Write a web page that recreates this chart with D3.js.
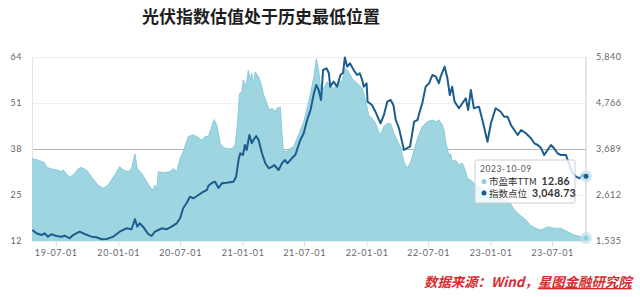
<!doctype html>
<html lang="zh">
<head>
<meta charset="UTF-8">
<title>光伏指数估值</title>
<style type="text/css">
body {
  margin: 0;
  padding: 0;
  background: #ffffff;
  font-family: 'Noto Sans CJK SC', 'Noto Sans', sans-serif;
}
</style>
<script type="text/javascript" src="https://cdn.jsdelivr.net/npm/d3@7/dist/d3.min.js"></script>
</head>
<body>
<div id="chart"></div>
<script type="text/javascript">

var title = '光伏指数估值处于历史最低位置';
var source = '数据来源：Wind，';
var sourceOrg = '星图金融研究院';

var peName = '市盈率TTM';
var idxName = '指数点位';
var hoverDate = '2023-10-09';
var hoverPe = '12.86';
var hoverIdx = '3,048.73';

var leftTicks = [12, 25, 38, 51, 64];
var rightTicks = [1535, 2612, 3689, 4766, 5840];
var xTicks = ['2019-07-01', '2020-01-01', '2020-07-01', '2021-01-01', '2021-07-01',
  '2022-01-01', '2022-07-01', '2023-01-01', '2023-07-01'];

// PE TTM (left axis)
var peDates = [
  '2019-04-22', '2019-05-15', '2019-05-29', '2019-06-03', '2019-06-13', '2019-07-03', '2019-07-18', '2019-07-22',
  '2019-08-11', '2019-08-26', '2019-09-04', '2019-09-14', '2019-09-29', '2019-10-14', '2019-11-02', '2019-11-17',
  '2019-12-02', '2019-12-22', '2020-01-05', '2020-01-15', '2020-01-30', '2020-02-09', '2020-02-19', '2020-02-26',
  '2020-03-10', '2020-03-19', '2020-04-03', '2020-04-13', '2020-04-18', '2020-04-23', '2020-04-28', '2020-05-12',
  '2020-06-01', '2020-06-11', '2020-06-21', '2020-07-01', '2020-07-10', '2020-07-25', '2020-08-09', '2020-08-19',
  '2020-09-03', '2020-09-12', '2020-09-22', '2020-10-02', '2020-10-09', '2020-10-17', '2020-10-27', '2020-11-05',
  '2020-11-15', '2020-11-30', '2020-12-10', '2020-12-17', '2020-12-23', '2020-12-30', '2021-01-03', '2021-01-11',
  '2021-01-18', '2021-01-23', '2021-01-28', '2021-02-02', '2021-02-07', '2021-02-17', '2021-02-24', '2021-03-04',
  '2021-03-14', '2021-03-19', '2021-03-29', '2021-04-07', '2021-04-12', '2021-04-22', '2021-04-27', '2021-05-01',
  '2021-05-09', '2021-05-21', '2021-05-31', '2021-06-15', '2021-06-30', '2021-07-10', '2021-07-20', '2021-07-30',
  '2021-08-06', '2021-08-13', '2021-08-18', '2021-08-28', '2021-09-07', '2021-09-16', '2021-09-26', '2021-10-11',
  '2021-10-21', '2021-10-31', '2021-11-09', '2021-11-19', '2021-11-29', '2021-12-09', '2021-12-19', '2021-12-29',
  '2022-01-07', '2022-01-17', '2022-01-27', '2022-02-06', '2022-02-11', '2022-02-21', '2022-03-03', '2022-03-13',
  '2022-03-23', '2022-04-01', '2022-04-11', '2022-04-21', '2022-05-01', '2022-05-11', '2022-05-21', '2022-05-31',
  '2022-06-14', '2022-06-29', '2022-07-14', '2022-07-24', '2022-08-02', '2022-08-12', '2022-08-17', '2022-08-22',
  '2022-09-01', '2022-09-05', '2022-09-10', '2022-09-20', '2022-09-30', '2022-10-10', '2022-10-20', '2022-10-25',
  '2022-11-04', '2022-11-18', '2022-12-03', '2022-12-23', '2023-01-07', '2023-01-21', '2023-02-10', '2023-02-25',
  '2023-03-12', '2023-03-27', '2023-04-10', '2023-04-30', '2023-05-20', '2023-05-30', '2023-06-18', '2023-07-07',
  '2023-07-27', '2023-08-16', '2023-09-04', '2023-09-24', '2023-10-09'
];
var peValues = [
  35.3, 34.7, 34.1, 33.0, 32.5, 32.1, 31.6, 32.1,
  30.0, 31.1, 32.3, 32.8, 32.1, 30.2, 27.8, 26.9,
  27.8, 30.7, 33.0, 32.1, 31.6, 32.5, 36.6, 32.5,
  31.1, 29.7, 27.3, 26.4, 27.8, 26.4, 31.6, 31.3,
  31.6, 32.5, 31.6, 35.4, 37.2, 41.5, 42.0, 41.5,
  40.5, 41.5, 41.5, 44.3, 46.3, 44.8, 39.6, 38.5,
  38.1, 38.1, 39.1, 45.3, 53.7, 54.2, 57.5, 55.6,
  60.3, 57.5, 59.4, 56.1, 59.8, 58.4, 56.6, 53.3,
  50.9, 49.0, 49.5, 48.5, 49.5, 49.8, 42.4, 37.7,
  37.2, 38.2, 38.6, 42.0, 45.7, 49.5, 53.7, 58.4,
  63.5, 60.3, 55.6, 55.2, 57.0, 55.6, 55.2, 56.6,
  57.5, 60.8, 59.8, 58.0, 57.0, 56.1, 55.2, 51.9,
  47.6, 46.7, 45.3, 42.9, 42.0, 44.3, 45.3, 45.1,
  42.4, 40.5, 38.6, 34.4, 32.5, 34.4, 37.7, 41.0,
  44.3, 45.7, 46.2, 45.7, 46.2, 44.8, 43.4, 40.1,
  35.8, 36.8, 34.4, 34.9, 33.5, 34.0, 31.6, 29.7,
  29.2, 27.8, 27.3, 25.9, 25.5, 24.5, 23.6, 23.1,
  20.8, 19.4, 18.4, 16.3, 15.3, 15.1, 16.0, 15.6,
  15.6, 14.6, 13.7, 13.2, 12.86
];

// index level (right axis)
var idxDates = [
  '2019-04-23', '2019-05-05', '2019-05-20', '2019-05-29', '2019-06-08', '2019-06-18', '2019-07-03', '2019-07-18',
  '2019-07-27', '2019-08-11', '2019-08-21', '2019-09-09', '2019-09-24', '2019-10-14', '2019-10-29', '2019-11-13',
  '2019-11-28', '2019-12-17', '2020-01-05', '2020-01-25', '2020-02-09', '2020-02-19', '2020-02-26', '2020-03-04',
  '2020-03-14', '2020-03-29', '2020-04-08', '2020-04-18', '2020-04-28', '2020-05-08', '2020-05-22', '2020-06-06',
  '2020-06-21', '2020-07-01', '2020-07-10', '2020-07-20', '2020-07-30', '2020-08-09', '2020-08-24', '2020-09-08',
  '2020-09-18', '2020-09-22', '2020-10-02', '2020-10-12', '2020-10-22', '2020-11-01', '2020-11-15', '2020-12-05',
  '2020-12-13', '2020-12-20', '2020-12-25', '2021-01-02', '2021-01-08', '2021-01-13', '2021-01-21', '2021-01-28',
  '2021-02-02', '2021-02-10', '2021-02-17', '2021-02-27', '2021-03-09', '2021-03-19', '2021-03-29', '2021-04-04',
  '2021-04-17', '2021-04-27', '2021-05-06', '2021-05-13', '2021-05-26', '2021-06-05', '2021-06-10', '2021-06-20',
  '2021-06-30', '2021-07-10', '2021-07-20', '2021-07-30', '2021-08-06', '2021-08-13', '2021-08-20', '2021-08-26',
  '2021-09-05', '2021-09-12', '2021-09-16', '2021-09-26', '2021-10-06', '2021-10-16', '2021-10-24', '2021-10-29',
  '2021-11-05', '2021-11-13', '2021-11-24', '2021-12-04', '2021-12-12', '2021-12-19', '2021-12-24', '2022-01-01',
  '2022-01-04', '2022-01-17', '2022-01-27', '2022-02-11', '2022-02-21', '2022-03-03', '2022-03-13', '2022-03-21',
  '2022-03-28', '2022-04-07', '2022-04-21', '2022-04-29', '2022-05-09', '2022-05-21', '2022-05-31', '2022-06-05',
  '2022-06-14', '2022-06-24', '2022-07-04', '2022-07-14', '2022-07-24', '2022-08-02', '2022-08-07', '2022-08-19',
  '2022-08-27', '2022-09-03', '2022-09-10', '2022-09-17', '2022-09-30', '2022-10-10', '2022-10-20', '2022-10-27',
  '2022-11-04', '2022-11-13', '2022-11-28', '2022-12-08', '2022-12-23', '2023-01-02', '2023-01-16', '2023-01-31',
  '2023-02-10', '2023-02-20', '2023-03-02', '2023-03-12', '2023-03-22', '2023-04-01', '2023-04-15', '2023-04-30',
  '2023-05-10', '2023-05-20', '2023-05-30', '2023-06-08', '2023-06-18', '2023-06-28', '2023-07-07', '2023-07-17',
  '2023-07-27', '2023-08-11', '2023-08-21', '2023-08-31', '2023-09-10', '2023-09-20', '2023-09-30', '2023-10-09'
];
var idxValues = [
  1792, 1715, 1675, 1715, 1636, 1692, 1652, 1636,
  1659, 1598, 1675, 1753, 1699, 1636, 1622, 1575,
  1582, 1636, 1753, 1832, 1809, 2043, 1870, 1949,
  1870, 1699, 1652, 1753, 1792, 1832, 1809, 1870,
  1949, 2066, 2300, 2417, 2572, 2534, 2611, 2689,
  2728, 2822, 2892, 2923, 2775, 2885, 2899, 2923,
  3040, 3430, 3587, 3547, 3781, 3664, 4015, 3821,
  3898, 3992, 3898, 3587, 3353, 3236, 3274, 3313,
  3196, 3353, 3430, 3353, 3470, 3547, 3664, 3898,
  4055, 4366, 4600, 4991, 5185, 5068, 4834, 5536,
  5576, 5459, 5146, 5263, 5146, 5419, 5473, 5830,
  5614, 5693, 5536, 5419, 5459, 5302, 5146, 5225,
  4795, 4717, 4560, 4289, 4483, 4795, 4834, 4717,
  4366, 4156, 3664, 3704, 3741, 4327, 4366, 4523,
  4757, 5146, 5225, 5419, 5380, 5225, 5380, 5614,
  5342, 4951, 5146, 4795, 4640, 4757, 4874, 4600,
  5068, 4640, 4678, 4366, 3858, 4289, 4640, 4560,
  4443, 4443, 4249, 4132, 4015, 4132, 4055, 3938,
  3821, 3781, 3704, 3547, 3664, 3781, 3704, 3587,
  3547, 3547, 3313, 3119, 3040, 3002, 3079, 3048.73
];

var W = 640, H = 297;
var plotL = 32, plotR = 586, plotT = 57, plotB = 241;

var parse = d3.timeParse('%Y-%m-%d');
var pe = peDates.map(function(d, i) { return { date: parse(d), v: peValues[i] }; });
var idx = idxDates.map(function(d, i) { return { date: parse(d), v: idxValues[i] }; });

var x = d3.scaleTime()
  .domain([parse('2019-04-22'), parse('2023-10-09')])
  .range([plotL, plotR]);
var yL = d3.scaleLinear().domain([12, 64]).range([plotB, plotT]);
var yR = d3.scaleLinear().domain([1535, 5840]).range([plotB, plotT]);

var svg = d3.select('#chart').append('svg')
  .attr('width', W)
  .attr('height', H);

svg.append('rect').attr('width', W).attr('height', H).attr('fill', '#ffffff');

// title
svg.append('text')
  .attr('x', 261)
  .attr('y', 23)
  .attr('text-anchor', 'middle')
  .style('font-size', '17px')
  .style('font-weight', 'bold')
  .attr('fill', '#1e1e1e')
  .text(title);

// grid
svg.selectAll('line.grid').data(leftTicks).enter()
  .append('line')
  .attr('class', 'grid')
  .attr('x1', plotL).attr('x2', plotR)
  .attr('y1', function(d) { return Math.round(yL(d)) + 0.5; })
  .attr('y2', function(d) { return Math.round(yL(d)) + 0.5; })
  .attr('stroke', function(d) { return d === 38 ? '#b0b4bd' : '#eceef2'; })
  .attr('stroke-width', 1);

svg.append('line')
  .attr('x1', plotL + 0.5).attr('x2', plotL + 0.5)
  .attr('y1', plotT).attr('y2', plotB)
  .attr('stroke', '#e2e4ea');

// PE area
var area = d3.area()
  .x(function(d) { return x(d.date); })
  .y0(yL(12))
  .y1(function(d) { return yL(d.v); });

svg.append('path')
  .datum(pe)
  .attr('d', area)
  .attr('fill', '#9dd5e1');

svg.append('path')
  .datum(pe)
  .attr('d', d3.line().x(function(d) { return x(d.date); }).y(function(d) { return yL(d.v); }))
  .attr('fill', 'none')
  .attr('stroke', '#8ccbd9')
  .attr('stroke-width', 1);

// index line
svg.append('path')
  .datum(idx)
  .attr('d', d3.line().x(function(d) { return x(d.date); }).y(function(d) { return yR(d.v); }))
  .attr('fill', 'none')
  .attr('stroke', '#1c5d8e')
  .attr('stroke-width', 2)
  .attr('stroke-linejoin', 'round');

// x axis
var xAxis = d3.axisBottom(x)
  .tickValues(xTicks.map(parse))
  .tickFormat(d3.timeFormat('%y-%m-%d'))
  .tickSize(5)
  .tickPadding(4);

var gx = svg.append('g')
  .attr('transform', 'translate(0,' + plotB + ')')
  .call(xAxis);
gx.select('.domain').remove();
gx.selectAll('line').attr('stroke', '#d8dbe2');
gx.selectAll('text')
  .attr('fill', '#666')
  .style('font-family', 'Lato, sans-serif')
  .style('font-size', '9px')
  .style('letter-spacing', '0.6px');

// left axis
var gl = svg.append('g')
  .attr('transform', 'translate(' + 22 + ',0)')
  .call(d3.axisLeft(yL).tickValues(leftTicks).tickSize(0).tickPadding(0));
gl.select('.domain').remove();
gl.selectAll('text')
  .attr('fill', '#666')
  .style('font-family', 'Lato, sans-serif')
  .style('font-size', '9px')
  .style('letter-spacing', '0.5px');

// right axis
var gr = svg.append('g')
  .attr('transform', 'translate(' + 596 + ',0)')
  .call(d3.axisRight(yR).tickValues(rightTicks).tickFormat(d3.format(',')).tickSize(0).tickPadding(0));
gr.select('.domain').remove();
gr.selectAll('text')
  .attr('fill', '#666')
  .style('font-family', 'Lato, sans-serif')
  .style('font-size', '9px')
  .style('letter-spacing', '0.5px');

// hover crosshair
var lastPe = pe[pe.length - 1];
var lastIdx = idx[idx.length - 1];
var hx = x(lastPe.date);
svg.append('line')
  .attr('x1', hx).attr('x2', hx)
  .attr('y1', plotT).attr('y2', plotB)
  .attr('stroke', '#c9ccd4');

// tooltip
var tip = svg.append('g').attr('transform', 'translate(475,160)');
tip.append('rect')
  .attr('width', 100).attr('height', 43)
  .attr('rx', 2)
  .attr('fill', '#ffffff')
  .attr('fill-opacity', 0.82)
  .attr('stroke', '#c8ccd4');
tip.append('text')
  .attr('x', 5).attr('y', 11.5)
  .attr('fill', '#555')
  .style('font-family', 'Lato, sans-serif')
  .style('font-size', '8.5px')
  .style('letter-spacing', '0.6px')
  .text(hoverDate);

var rows = [
  { name: peName, value: hoverPe, color: '#8fd0dd' },
  { name: idxName, value: hoverIdx, color: '#1c5d8e' }
];
rows.forEach(function(r, i) {
  var yy = 25 + i * 11.5;
  tip.append('circle').attr('cx', 9).attr('cy', yy - 3.5).attr('r', 2.5).attr('fill', r.color);
  var t = tip.append('text')
    .attr('x', 14).attr('y', yy)
    .attr('fill', '#333')
    .style('font-size', '9.5px');
  t.append('tspan').text(r.name);
  t.append('tspan').attr('dx', 5).style('font-weight', 'bold').style('font-family', 'Lato, sans-serif')
    .style('font-size', '10.5px').style('letter-spacing', '0.3px').text(r.value);
});

// hover markers
[[yL(lastPe.v), '#8fd0dd'], [yR(lastIdx.v), '#1c5d8e']].forEach(function(m) {
  svg.append('circle').attr('cx', hx).attr('cy', m[0]).attr('r', 6)
    .attr('fill', '#bfe0ee').attr('fill-opacity', 0.7);
  svg.append('circle').attr('cx', hx).attr('cy', m[0]).attr('r', 2.5).attr('fill', m[1]);
});

// source note
var src = svg.append('text')
  .attr('x', 424)
  .attr('y', 287)
  .attr('fill', '#d92b2f')
  .style('font-size', '13.4px')
  .style('font-style', 'italic')
  .style('font-weight', 'bold');
src.append('tspan').text(source);
src.append('tspan').style('text-decoration', 'underline').text(sourceOrg);

</script>
</body>
</html>
